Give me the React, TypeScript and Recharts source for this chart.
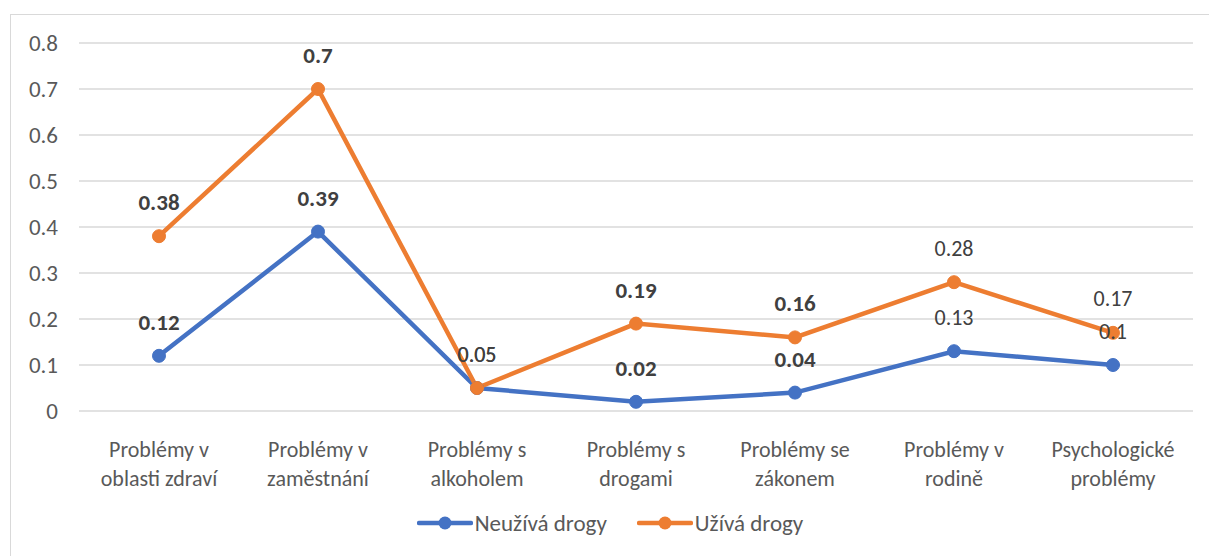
import React from 'react'
import { LineChart, Line, XAxis, YAxis, CartesianGrid, Legend, LabelList } from 'recharts'

// kategorie na ose X (zalomení řádku přes \n)
const categories = [
  'Problémy v\noblasti zdraví',
  'Problémy v\nzaměstnání',
  'Problémy s\nalkoholem',
  'Problémy s\ndrogami',
  'Problémy se\nzákonem',
  'Problémy v\nrodině',
  'Psychologické\nproblémy',
]

const neuzivaValues = [0.12, 0.39, 0.05, 0.02, 0.04, 0.13, 0.1]
const uzivaValues = [0.38, 0.7, 0.05, 0.19, 0.16, 0.28, 0.17]

// které popisky jsou tučně
const neuzivaBold = [true, true, false, true, true, false, false]
const uzivaBold = [true, true, false, true, true, false, false]

const yTicks = [0, 0.1, 0.2, 0.3, 0.4, 0.5, 0.6, 0.7, 0.8]

const BLUE = '#4472C4'
const ORANGE = '#ED7D31'
const FONT = 'Carlito, Lato, sans-serif'

const data = categories.map((name, i) => ({
  name,
  neuziva: neuzivaValues[i],
  uziva: uzivaValues[i],
}))

const CategoryTick = (props: any) => {
  const { x, y, payload } = props
  const lines = String(payload.value).split('\n')
  return (
    <g transform={`translate(${x},${y})`}>
      {lines.map((line, i) => (
        <text
          key={i}
          x={0}
          y={30 + i * 29}
          textAnchor="middle"
          dominantBaseline="central"
          fill="#595959"
          fontSize={22}
          fontFamily={FONT}
        >
          {line}
        </text>
      ))}
    </g>
  )
}

const makeLabel = (bold: boolean[]) => (props: any) => {
  const { x, y, value, index } = props
  return (
    <text
      x={x}
      y={y - 34}
      textAnchor="middle"
      dominantBaseline="central"
      fill="#404040"
      fontSize={bold[index] ? 23 : 22}
      fontWeight={bold[index] ? 'bold' : 'normal'}
      fontFamily={FONT}
    >
      {value}
    </text>
  )
}

const renderLegend = () => {
  const items = [
    { name: 'Neužívá drogy', color: BLUE },
    { name: 'Užívá drogy', color: ORANGE },
  ]
  return (
    <div style={{ display: 'flex', justifyContent: 'center', gap: 30, fontFamily: FONT, fontSize: 23, color: '#595959' }}>
      {items.map((it) => (
        <div key={it.name} style={{ display: 'flex', alignItems: 'center' }}>
          <svg width={56} height={20} style={{ marginRight: 2 }}>
            <line x1={2} y1={10} x2={54} y2={10} stroke={it.color} strokeWidth={4.5} strokeLinecap="round" />
            <circle cx={28} cy={10} r={6.5} fill={it.color} />
          </svg>
          <span>{it.name}</span>
        </div>
      ))}
    </div>
  )
}

export default function App() {
  return (
    <div
      style={{
        position: 'absolute',
        left: 10,
        top: 14,
        width: 1230,
        height: 560,
        border: '1px solid #d9d9d9',
        background: '#fff',
      }}
    >
      <LineChart
        width={1198}
        height={540}
        data={data}
        margin={{ top: 28, right: 16, bottom: 64, left: 0 }}
      >
        <CartesianGrid vertical={false} stroke="#d9d9d9" strokeWidth={1.3} />
        <XAxis
          dataKey="name"
          axisLine={false}
          tickLine={false}
          interval={0}
          height={80}
          padding={{ left: 80, right: 80 }}
          tick={<CategoryTick />}
        />
        <YAxis
          width={68}
          domain={[0, 0.8]}
          ticks={yTicks}
          axisLine={false}
          tickLine={false}
          tickSize={0}
          tickMargin={21}
          tick={{ fill: '#595959', fontSize: 23, fontFamily: FONT }}
        />
        <Line
          dataKey="neuziva"
          name="Neužívá drogy"
          stroke={BLUE}
          strokeWidth={4.5}
          dot={{ r: 6.5, fill: BLUE, stroke: BLUE, strokeWidth: 1 }}
          isAnimationActive={false}
        />
        <Line
          dataKey="uziva"
          name="Užívá drogy"
          stroke={ORANGE}
          strokeWidth={4.5}
          dot={{ r: 6.5, fill: ORANGE, stroke: ORANGE, strokeWidth: 1 }}
          isAnimationActive={false}
        />
        {/* popisky hodnot nad oběma řadami */}
        <Line dataKey="uziva" stroke="none" dot={false} legendType="none" isAnimationActive={false}>
          <LabelList dataKey="uziva" content={makeLabel(uzivaBold)} />
        </Line>
        <Line dataKey="neuziva" stroke="none" dot={false} legendType="none" isAnimationActive={false}>
          <LabelList dataKey="neuziva" content={makeLabel(neuzivaBold)} />
        </Line>
        <Legend
          verticalAlign="middle"
          layout="horizontal"
          content={renderLegend}
          wrapperStyle={{ top: 494, left: 0, width: 1198 }}
        />
      </LineChart>
    </div>
  )
}
